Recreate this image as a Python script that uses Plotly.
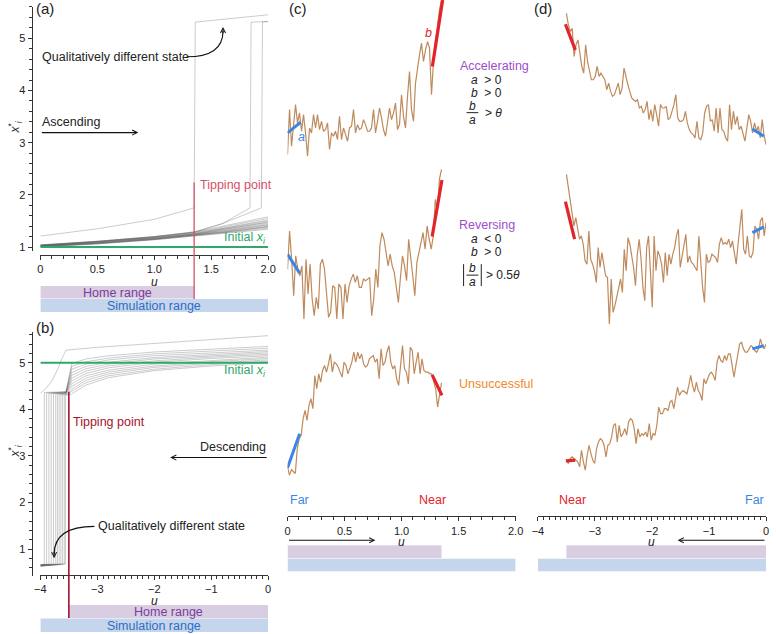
import numpy as np
import plotly.graph_objects as go

W, H = 776, 634
def px(x): return x / W
def py(y): return 1 - y / H

# ---------------- data ----------------
# panel (a): ascending u, equilibrium states x_i*
a_u = [0, 0.5, 1.0, 1.35, 1.6, 2.0]
a_band = [
    [1.00, 1.06, 1.14, 1.21, 1.26, 1.34],
    [1.00, 1.06, 1.14, 1.21, 1.27, 1.36],
    [1.01, 1.07, 1.15, 1.22, 1.28, 1.38],
    [1.01, 1.07, 1.15, 1.22, 1.28, 1.39],
    [1.01, 1.07, 1.15, 1.23, 1.29, 1.40],
    [1.02, 1.08, 1.16, 1.23, 1.30, 1.42],
    [1.02, 1.08, 1.16, 1.24, 1.31, 1.43],
    [1.02, 1.08, 1.17, 1.24, 1.32, 1.45],
    [1.02, 1.09, 1.17, 1.25, 1.33, 1.47],
    [1.03, 1.09, 1.18, 1.25, 1.34, 1.48],
    [1.03, 1.10, 1.18, 1.26, 1.35, 1.50],
    [1.03, 1.10, 1.19, 1.27, 1.36, 1.52],
    [1.04, 1.11, 1.20, 1.28, 1.38, 1.55],
    [1.04, 1.11, 1.20, 1.29, 1.40, 1.58],
]
a_jump_u = [
    [0, 0.5, 1.0, 1.35, 1.36, 1.6, 2.0],
    [0, 0.5, 1.0, 1.35, 1.6, 1.84, 1.85, 2.0],
    [0, 0.5, 1.0, 1.35, 1.6, 1.94, 1.95, 2.0],
]
a_jump_x = [
    [1.21, 1.35, 1.53, 1.75, 5.31, 5.36, 5.45],
    [1.03, 1.10, 1.19, 1.28, 1.45, 1.75, 5.31, 5.32],
    [1.04, 1.11, 1.20, 1.29, 1.45, 1.75, 5.31, 5.32],
]
init_a = 1.0
tip_a = 1.35
home_a = [0, 1.35]
sim_a = [0, 2.0]

# panel (b): descending u
b_u = [0, -1.0, -2.0, -2.8, -3.2, -3.45]
b_band = [
    [5.00, 4.93, 4.83, 4.68, 4.52, 4.33],
    [5.03, 4.96, 4.86, 4.72, 4.57, 4.38],
    [5.06, 4.99, 4.90, 4.76, 4.62, 4.43],
    [5.09, 5.02, 4.93, 4.80, 4.67, 4.49],
    [5.12, 5.05, 4.97, 4.84, 4.72, 4.55],
    [5.15, 5.09, 5.01, 4.89, 4.77, 4.61],
    [5.18, 5.12, 5.04, 4.93, 4.82, 4.67],
    [5.21, 5.15, 5.08, 4.97, 4.87, 4.73],
    [5.24, 5.18, 5.11, 5.01, 4.92, 4.79],
    [5.27, 5.21, 5.15, 5.06, 4.97, 4.86],
    [5.31, 5.25, 5.19, 5.10, 5.02, 4.92],
    [5.35, 5.29, 5.23, 5.15, 5.08, 4.98],
]
b_jump_u = [-3.56, -3.58, -3.61, -3.64, -3.67, -3.70, -3.73, -3.77, -3.81, -3.85, -3.89, -3.93]
b_pre = [4.30, 4.31, 4.32, 4.33, 4.34, 4.35, 4.35, 4.36, 4.36, 4.37, 4.37, 4.38]
b_low = [0.68, 0.68, 0.67, 0.67, 0.67, 0.66, 0.66, 0.66, 0.65, 0.65, 0.65, 0.64]
b_top_u = [0, -1.0, -2.0, -3.0, -3.55, -3.6, -3.7, -3.8, -3.9, -4.0]
b_top_x = [5.58, 5.50, 5.42, 5.33, 5.27, 5.15, 4.85, 4.60, 4.45, 4.34]
init_b = 5.0
tip_b = -3.5
home_b = [-3.5, 0]
sim_b = [-4, 0]

# panels (c)/(d): example trajectories (arbitrary state units)
c_span = [0, 1.35]
d_span = [-3.5, 0]
c_acc = [15,150,40,100,165,110,140,85,135,80,10,95,80,135,95,135,90,115,85,90,110,30,80,70,85,60,130,60,95,75,
         55,95,100,150,80,105,90,95,120,105,85,85,95,150,80,115,155,125,90,70,110,155,120,140,170,90,105,195,130,95,
         190,265,150,115,230,280,315,350,295,330,355,335,195,295,360,400,450,480]
c_acc_a = ([0, 0.115], [80, 112])
c_acc_b = ([1.27, 1.36], [280, 480])
c_rev = [150,265,180,70,190,150,130,160,0,180,75,165,60,10,65,30,165,180,150,70,5,20,100,95,0,105,95,0,105,50,
         100,120,135,110,130,95,95,120,115,120,125,10,60,150,95,220,260,240,200,160,195,160,140,100,50,125,190,160,115,240,
         190,130,70,170,200,230,260,210,280,240,210,250,360,325,420,450]
c_rev_a = ([0, 0.106], [195, 138])
c_rev_b = ([1.268, 1.354], [248, 418])
c_uns = [65,40,57,52,45,120,150,160,210,235,205,250,270,240,340,300,345,320,355,370,350,375,405,350,380,375,365,350,335,380,
         370,345,360,380,410,380,410,390,405,375,365,370,390,395,400,380,390,330,420,370,380,410,430,380,360,370,330,310,380,430,
         360,350,315,425,415,345,380,410,345,390,355,350,350,345,345,325,300,245,280,318]
c_uns_a = ([0, 0.106], [62, 165])
c_uns_b = ([1.268, 1.354], [342, 280])

d_acc = [425,390,370,380,295,330,345,300,265,245,330,280,250,225,225,235,265,235,245,235,225,195,215,190,175,180,195,215,180,200,
         260,230,210,190,170,165,160,165,140,145,125,135,160,105,135,100,150,120,85,150,140,140,145,105,110,130,150,180,110,100,
         100,105,130,95,75,65,60,50,100,50,45,65,125,145,150,100,105,70,140,65,140,75,70,50,40,150,75,130,90,115,
         75,85,60,40,80,120,100,65,95,70,85,50,105,55,30]
d_acc_b = ([-3.518, -3.345], [392, 315])
d_acc_a = ([-0.24, -0.038], [77, 55])
d_rev = [450,410,360,330,295,320,290,255,265,240,190,180,280,195,180,160,125,230,170,215,180,145,140,0,135,35,55,85,110,135,
         95,225,160,260,240,210,170,115,210,255,195,110,70,230,265,160,50,265,160,220,205,180,125,215,145,210,180,210,230,265,
         285,170,200,230,270,185,205,185,180,170,160,265,180,110,65,210,185,190,210,205,200,185,240,260,240,245,240,255,230,250,
         220,180,240,295,345,225,210,265,205,200,215,295,285,255,310,320,265,305]
d_rev_b = ([-3.518, -3.357], [368, 255])
d_rev_a = ([-0.24, -0.038], [275, 292])
d_uns = [55,45,60,65,60,55,50,35,85,50,25,70,100,75,55,45,90,110,120,115,100,65,100,105,125,160,165,110,160,125,
         135,150,130,170,180,175,150,105,150,125,135,130,140,125,165,115,135,130,160,215,195,195,210,210,205,230,235,210,240,275,
         250,260,265,260,255,280,310,280,260,290,265,255,235,300,285,300,315,320,310,295,350,370,355,350,370,355,375,375,340,305,
         340,380,405,410,390,380,380,390,400,395,385,380,390,420,400,390,405]
d_uns_b = ([-3.51, -3.345], [53, 55])
d_uns_a = ([-0.24, -0.038], [390, 400])

# ---------------- styles ----------------
FONT = "Liberation Sans, Arial, sans-serif"
GRAY = "rgba(85,85,85,0.38)"
GREEN = "#2fa86a"
BROWN = "#bf8a5c"
BLUE = "#3a86e4"
RED = "#e3242b"
PURPLE = "#9d4ecb"
ORANGE = "#f08a26"
HOME_FILL = "#d9cde2"
SIM_FILL = "#c5d6ec"
HOME_TXT = "#7a3d9c"
SIM_TXT = "#2f6cc6"
AX = "#333"

fig = go.Figure()

# panel (a)
for line in a_band:
    fig.add_trace(go.Scatter(x=a_u, y=line, mode="lines", line=dict(color=GRAY, width=0.8),
                             xaxis="x", yaxis="y", hoverinfo="skip"))
for uu, xx in zip(a_jump_u, a_jump_x):
    fig.add_trace(go.Scatter(x=uu, y=xx, mode="lines", line=dict(color=GRAY, width=0.8),
                             xaxis="x", yaxis="y", hoverinfo="skip"))
fig.add_trace(go.Scatter(x=sim_a, y=[init_a, init_a], mode="lines", line=dict(color=GREEN, width=2),
                         xaxis="x", yaxis="y"))

# panel (b)
for k, line in enumerate(b_band):
    uu = b_u + [-3.55, b_jump_u[k], b_jump_u[k], -4.0]
    xx = line + [b_pre[k], b_pre[k] - 0.02, b_low[k], b_low[k] - 0.01]
    fig.add_trace(go.Scatter(x=uu, y=xx, mode="lines", line=dict(color=GRAY, width=0.8),
                             xaxis="x2", yaxis="y2", hoverinfo="skip"))
fig.add_trace(go.Scatter(x=b_top_u, y=b_top_x, mode="lines", line=dict(color=GRAY, width=0.8),
                         xaxis="x2", yaxis="y2"))
fig.add_trace(go.Scatter(x=sim_b, y=[init_b, init_b], mode="lines", line=dict(color=GREEN, width=2),
                         xaxis="x2", yaxis="y2"))

# panels (c) and (d)
series = [
    (c_acc, c_span, c_acc_a, c_acc_b, "x3", 3, 0, 160, 480),
    (c_rev, c_span, c_rev_a, c_rev_b, "x3", 4, 160, 320, 480),
    (c_uns, c_span, c_uns_a, c_uns_b, "x3", 5, 340, 490, 450),
    (d_acc, d_span, d_acc_a, d_acc_b, "x4", 6, 5, 155, 450),
    (d_rev, d_span, d_rev_a, d_rev_b, "x4", 7, 165, 325, 480),
    (d_uns, d_span, d_uns_a, d_uns_b, "x4", 8, 330, 480, 450),
]
yaxes = {}
for vals, span, fa, fb, xa, yi, top, bot, hmax in series:
    u = np.linspace(span[0], span[1], len(vals))
    ya = f"y{yi}"
    fig.add_trace(go.Scatter(x=u, y=vals, mode="lines", line=dict(color=BROWN, width=1.2),
                             xaxis=xa, yaxis=ya))
    fig.add_trace(go.Scatter(x=fa[0], y=fa[1], mode="lines", line=dict(color=BLUE, width=3),
                             xaxis=xa, yaxis=ya))
    fig.add_trace(go.Scatter(x=fb[0], y=fb[1], mode="lines", line=dict(color=RED, width=3.2),
                             xaxis=xa, yaxis=ya))
    k = hmax / (bot - top)
    t_pad = min(6, top)
    b_pad = 6
    yaxes[f"yaxis{yi}"] = dict(domain=[py(bot + b_pad), py(top - t_pad)],
                               range=[-b_pad * k, hmax + t_pad * k],
                               visible=False, anchor="free", position=0, fixedrange=True)

tickfont = dict(family=FONT, size=11, color="#222")
minor_x = dict(dtick=0.1, tick0=0, ticklen=2.5, ticks="outside", tickcolor=AX, showgrid=False)
minor_y = dict(dtick=0.2, tick0=0, ticklen=2.5, ticks="outside", tickcolor=AX, showgrid=False)
common_ax = dict(showgrid=False, zeroline=False, showline=True, linecolor=AX, linewidth=1,
                 ticks="outside", ticklen=4, tickcolor=AX, tickfont=tickfont, anchor="free")

layout = dict(
    width=W, height=H, margin=dict(l=0, r=0, t=0, b=0),
    paper_bgcolor="white", plot_bgcolor="rgba(0,0,0,0)", showlegend=False,
    font=dict(family=FONT, size=12.5, color="#222"),
    xaxis=dict(common_ax, domain=[px(35), px(267)], range=[0, 2], position=py(256),
               tickvals=[0, 0.5, 1, 1.5, 2], ticktext=["0", "0.5", "1.0", "1.5", "2.0"], minor=minor_x),
    yaxis=dict(common_ax, domain=[py(252), py(7)], range=[0.92, 5.6], position=px(26),
               tickvals=[1, 2, 3, 4, 5], minor=minor_y),
    xaxis2=dict(common_ax, domain=[px(35), px(267)], range=[-4, 0], position=py(577),
                tickvals=[-4, -3, -2, -1, 0], minor=minor_x),
    yaxis2=dict(common_ax, domain=[py(578), py(333)], range=[0.42, 5.66], position=px(26),
                tickvals=[1, 2, 3, 4, 5], minor=minor_y),
    xaxis3=dict(common_ax, domain=[px(286.7), px(519)], range=[0, 2], position=py(518),
                tickvals=[0, 0.5, 1, 1.5, 2], ticktext=["0", "0.5", "1.0", "1.5", "2.0"], minor=minor_x),
    xaxis4=dict(common_ax, domain=[px(541.7), px(774)], range=[-4, 0], position=py(518),
                tickvals=[-4, -3, -2, -1, 0], minor=minor_x),
)
layout.update(yaxes)
fig.update_layout(**layout)

shapes = []
def bar(xref, rng, y_top, y_bot, color):
    shapes.append(dict(type="rect", xref=xref, yref="paper", x0=rng[0], x1=rng[1],
                       y0=py(y_bot), y1=py(y_top), fillcolor=color, line=dict(width=0), layer="below"))
bar("x", home_a, 287, 299.5, HOME_FILL)
bar("x", sim_a, 300, 313, SIM_FILL)
bar("x2", home_b, 607, 620, HOME_FILL)
bar("x2", sim_b, 620.5, 634, SIM_FILL)
bar("x3", home_a, 547, 560, HOME_FILL)
bar("x3", sim_a, 560.5, 573, SIM_FILL)
bar("x4", home_b, 547, 560, HOME_FILL)
bar("x4", sim_b, 560.5, 573, SIM_FILL)

# tipping point markers
shapes.append(dict(type="line", xref="x", yref="paper", x0=tip_a, x1=tip_a, y0=py(300), y1=py(183),
                   line=dict(color="#d6506a", width=1.3)))
shapes.append(dict(type="line", xref="x2", yref="paper", x0=tip_b, x1=tip_b, y0=py(620), y1=py(393),
                   line=dict(color="#a3142e", width=1.6)))

# curved arrows
def curve(p0, c, p1):
    shapes.append(dict(type="path", xref="paper", yref="paper",
                       path=f"M {px(p0[0])},{py(p0[1])} Q {px(c[0])},{py(c[1])} {px(p1[0])},{py(p1[1])}",
                       line=dict(color="#111", width=1.1)))
curve((184, 57), (221, 57), (221, 31))
curve((90, 528), (49, 528), (49, 556))

# fraction bars and absolute-value bars
for yy in (113, 276):
    shapes.append(dict(type="line", xref="paper", yref="paper", x0=px(469), x1=px(481),
                       y0=py(yy), y1=py(yy), line=dict(color="#222", width=1)))
for xx in (466, 484):
    shapes.append(dict(type="line", xref="paper", yref="paper", x0=px(xx), x1=px(xx),
                       y0=py(287), y1=py(265), line=dict(color="#222", width=1)))

ann = []
def txt(x, y, text, xref="paper", yref="paper", xanchor="left", color="#222", size=12.5, **kw):
    ann.append(dict(x=x, y=y, xref=xref, yref=yref, text=text, showarrow=False, xanchor=xanchor,
                    yanchor="middle", font=dict(family=FONT, size=size, color=color), **kw))

NB = "\u00a0"
# panel labels
txt(px(29), py(9), "(a)", size=15)
txt(px(29), py(329), "(b)", size=15)
txt(px(286), py(9), "(c)", size=15)
txt(px(536), py(9), "(d)", size=15)

# axis titles
ytitle = "<i>x</i><sup>*</sup><sub><i>i</i></sub>"
txt(px(9), py(127), ytitle, xanchor="center", size=12, textangle=-90)
txt(px(9), py(452), ytitle, xanchor="center", size=12, textangle=-90)
txt(1.0, py(283), "<i>u</i>", xref="x", xanchor="center", size=12)
txt(-2.0, py(603), "<i>u</i>", xref="x2", xanchor="center", size=12)
txt(1.0, py(543.5), "<i>u</i>", xref="x3", xanchor="center", size=12)
txt(-2.0, py(543.5), "<i>u</i>", xref="x4", xanchor="center", size=12)

# panel (a) texts
txt(px(35), py(57), "Qualitatively different state")
txt(px(35), py(122), "Ascending")
txt(px(196), py(186), "Tipping point", color="#d6506a")
txt(sim_a[1], py(239), "Initial <i>x<sub>i</sub></i>", xref="x", xanchor="right", color=GREEN)
txt(sum(home_a) / 2, py(293.5), "Home range", xref="x", xanchor="center", color=HOME_TXT)
txt(sum(sim_a) / 2, py(306.5), "Simulation range", xref="x", xanchor="center", color=SIM_TXT)

# panel (b) texts
txt(sim_b[1], py(372), "Initial <i>x<sub>i</sub></i>", xref="x2", xanchor="right", color=GREEN)
txt(px(66), py(423), "Tipping point", color="#a3142e")
txt(sim_b[1], py(448), "Descending", xref="x2", xanchor="right")
txt(px(92), py(528), "Qualitatively different state")
txt(sum(home_b) / 2, py(613.5), "Home range", xref="x2", xanchor="center", color=HOME_TXT)
txt(sum(sim_b) / 2, py(627.5), "Simulation range", xref="x2", xanchor="center", color=SIM_TXT)

# panel (c) texts
txt(px(295), py(137), "<i>a</i>", color=BLUE)
txt(px(425), py(33), "<i>b</i>", color=RED)
txt(px(460), py(66), "Accelerating", color=PURPLE)
txt(px(472), py(80), f"<i>a</i>{NB}{NB}>{NB}0", size=12)
txt(px(472), py(93), f"<i>b</i>{NB}{NB}>{NB}0", size=12)
txt(px(475), py(106), "<i>b</i>", xanchor="center", size=12)
txt(px(475), py(120), "<i>a</i>", xanchor="center", size=12)
txt(px(486), py(113), f">{NB}<i>θ</i>", size=12)
txt(px(459), py(226), "Reversing", color=PURPLE)
txt(px(472), py(240), f"<i>a</i>{NB}{NB}<{NB}0", size=12)
txt(px(472), py(253), f"<i>b</i>{NB}{NB}>{NB}0", size=12)
txt(px(475), py(269), "<i>b</i>", xanchor="center", size=12)
txt(px(475), py(283), "<i>a</i>", xanchor="center", size=12)
txt(px(487), py(276), f">{NB}0.5<i>θ</i>", size=12)
txt(px(459), py(385), "Unsuccessful", color=ORANGE)
txt(0, py(502), "Far", xref="x3", color=BLUE)
txt(1.27, py(502), "Near", xref="x3", xanchor="center", color=RED)

# panel (d) texts
txt(-3.4, py(502), "Near", xref="x4", xanchor="center", color=RED)
txt(0, py(502), "Far", xref="x4", xanchor="right", color=BLUE)

# straight arrows
def arrow(xref, yref, x_head, y, x_tail):
    ann.append(dict(x=x_head, y=y, xref=xref, yref=yref, ax=x_tail, ay=0, axref=xref, ayref="pixel",
                    text="", showarrow=True, arrowhead=5, arrowsize=0.9, arrowwidth=1.1,
                    arrowcolor="#111", standoff=0, startstandoff=0))
arrow("x", "paper", 0.86, py(133), 0)
arrow("x2", "paper", -1.72, py(459), 0)
arrow("x3", "paper", 0.77, py(542), 0)
arrow("x4", "paper", -1.55, py(542), 0)

# arrowheads of curved arrows
ann.append(dict(x=px(221), y=py(27), xref="paper", yref="paper", ax=0, ay=8, text="",
                showarrow=True, arrowhead=5, arrowsize=0.9, arrowwidth=1.1, arrowcolor="#111", standoff=0))
ann.append(dict(x=px(49), y=py(560), xref="paper", yref="paper", ax=0, ay=-8, text="",
                showarrow=True, arrowhead=5, arrowsize=0.9, arrowwidth=1.1, arrowcolor="#111", standoff=0))

fig.update_layout(shapes=shapes, annotations=ann)
fig.write_html("out.html")
